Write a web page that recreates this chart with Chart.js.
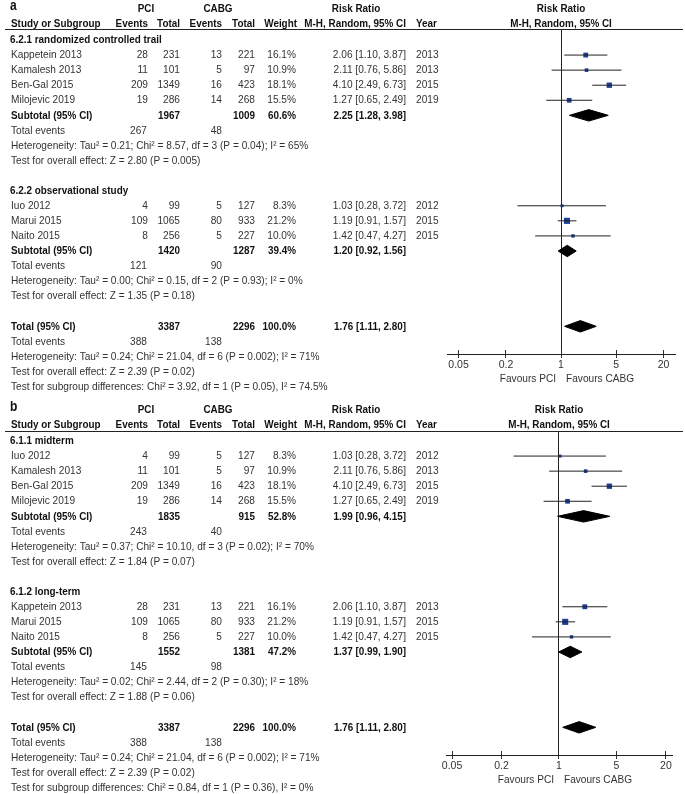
<!DOCTYPE html>
<html>
<head>
<meta charset="utf-8">
<script src="https://cdn.jsdelivr.net/npm/chart.js@4.4.1/dist/chart.umd.min.js"></script>
<style>
  body { margin: 0; background: #fff; }
  canvas { position: absolute; left: 0; }
  #panelA { top: 0; }
  #panelB { top: 401px; }
</style>
</head>
<body>
<canvas id="panelA" width="685" height="401"></canvas>
<canvas id="panelB" width="685" height="393"></canvas>
<script>
// Study level data (same studies appear in both panels)
const studies = ['Kappetein 2013', 'Kamalesh 2013', 'Ben-Gal 2015', 'Milojevic 2019', 'Iuo 2012', 'Marui 2015', 'Naito 2015'];
const pciEvents = [28, 11, 209, 19, 4, 109, 8];
const pciTotal = [231, 101, 1349, 286, 99, 1065, 256];
const cabgEvents = [13, 5, 16, 14, 5, 80, 5];
const cabgTotal = [221, 97, 423, 268, 127, 933, 227];
const weights = [16.1, 10.9, 18.1, 15.5, 8.3, 21.2, 10.0];
const rr = [2.06, 2.11, 4.10, 1.27, 1.03, 1.19, 1.42];
const rrLow = [1.10, 0.76, 2.49, 0.65, 0.28, 0.91, 0.47];
const rrHigh = [3.87, 5.86, 6.73, 2.49, 3.72, 1.57, 4.27];
const years = [2013, 2013, 2015, 2019, 2012, 2015, 2015];

// Panel a: by study design
const aTitles = ['6.2.1 randomized controlled trail', '6.2.2 observational study'];
const aMembers = [[0, 1, 2, 3], [4, 5, 6]];
const aSubPci = [1967, 1420];
const aSubCabg = [1009, 1287];
const aSubWeight = [60.6, 39.4];
const aSubRR = [2.25, 1.20];
const aSubLow = [1.28, 0.92];
const aSubHigh = [3.98, 1.56];
const aSubPciEvents = [267, 121];
const aSubCabgEvents = [48, 90];
const aHet = ['Heterogeneity: Tau² = 0.21; Chi² = 8.57, df = 3 (P = 0.04); I² = 65%',
              'Heterogeneity: Tau² = 0.00; Chi² = 0.15, df = 2 (P = 0.93); I² = 0%'];
const aOverall = ['Test for overall effect: Z = 2.80 (P = 0.005)', 'Test for overall effect: Z = 1.35 (P = 0.18)'];
const aSubgroupTest = 'Test for subgroup differences: Chi² = 3.92, df = 1 (P = 0.05), I² = 74.5%';

// Panel b: by follow-up
const bTitles = ['6.1.1 midterm', '6.1.2 long-term'];
const bMembers = [[4, 1, 2, 3], [0, 5, 6]];
const bSubPci = [1835, 1552];
const bSubCabg = [915, 1381];
const bSubWeight = [52.8, 47.2];
const bSubRR = [1.99, 1.37];
const bSubLow = [0.96, 0.99];
const bSubHigh = [4.15, 1.90];
const bSubPciEvents = [243, 145];
const bSubCabgEvents = [40, 98];
const bHet = ['Heterogeneity: Tau² = 0.37; Chi² = 10.10, df = 3 (P = 0.02); I² = 70%',
              'Heterogeneity: Tau² = 0.02; Chi² = 2.44, df = 2 (P = 0.30); I² = 18%'];
const bOverall = ['Test for overall effect: Z = 1.84 (P = 0.07)', 'Test for overall effect: Z = 1.88 (P = 0.06)'];
const bSubgroupTest = 'Test for subgroup differences: Chi² = 0.84, df = 1 (P = 0.36), I² = 0%';

// Overall pooled result
const totalPci = 3387, totalCabg = 2296;
const totalRR = 1.76, totalLow = 1.11, totalHigh = 2.80;
const totalPciEvents = 388, totalCabgEvents = 138;
const totalHet = 'Heterogeneity: Tau² = 0.24; Chi² = 21.04, df = 6 (P = 0.002); I² = 71%';
const totalOverall = 'Test for overall effect: Z = 2.39 (P = 0.02)';

const xTicks = [0.05, 0.2, 1, 5, 20];

const FONT = '"Liberation Sans", Arial, Helvetica, sans-serif';
const SX = 0.88;      // RevMan text is a bit narrow
const SX_BOLD = 0.86;
const ROW = 15.07;
const NAVY = '#1b3f96';

function text(ctx, s, x, y, align, bold, size, baseline) {
    ctx.save();
    ctx.translate(x, y);
    ctx.scale(bold ? SX_BOLD : SX, 1);
    ctx.font = (bold ? 'bold ' : '') + (size || 11.5) + 'px ' + FONT;
    ctx.textAlign = align || 'left';
    ctx.textBaseline = baseline || 'middle';
    ctx.fillStyle = bold ? '#111' : '#333';
    ctx.fillText(String(s), 0, 0);
    ctx.restore();
}

const ci = (m, l, h) => `${m.toFixed(2)} [${l.toFixed(2)}, ${h.toFixed(2)}]`;

// turn the arrays into ordered table rows
function buildRows(p) {
    const rows = [];
    let k = 0;
    p.titles.forEach((t, g) => {
        rows.push({ k: k++, kind: 'title', text: t });
        p.members[g].forEach(i => rows.push({ k: k++, kind: 'study', i }));
        rows.push({ k: k++, kind: 'sub', g });
        rows.push({ k: k++, kind: 'events', pci: p.subPciEv[g], cabg: p.subCabgEv[g] });
        rows.push({ k: k++, kind: 'note', text: p.het[g] });
        rows.push({ k: k++, kind: 'note', text: p.overall[g] });
        k++;
    });
    rows.push({ k: k++, kind: 'total' });
    rows.push({ k: k++, kind: 'events', pci: totalPciEvents, cabg: totalCabgEvents });
    rows.push({ k: k++, kind: 'note', text: totalHet });
    rows.push({ k: k++, kind: 'note', text: totalOverall });
    rows.push({ k: k++, kind: 'note', text: p.subgroupTest });
    return rows;
}

function diamond(lo, mid, hi, k) {
    const h = 0.38;
    return {
        type: 'line',
        data: [{ x: lo, y: k }, { x: mid, y: k - h }, { x: hi, y: k }, { x: mid, y: k + h }, { x: lo, y: k }],
        borderColor: '#000',
        backgroundColor: '#000',
        borderWidth: 1,
        pointRadius: 0,
        tension: 0,
        fill: 'shape'
    };
}

function forestPlugin(p, rows) {
    return {
        id: 'forest',
        beforeDatasetsDraw(chart) {
            const { ctx, chartArea: a, scales: { x } } = chart;
            ctx.save();
            ctx.strokeStyle = '#222';
            ctx.lineWidth = 1;
            ctx.beginPath();
            const top = Math.round(a.top) + 0.5;
            ctx.moveTo(5, top);
            ctx.lineTo(683, top);
            const x1 = Math.round(x.getPixelForValue(1) - 0.5) + 0.5;
            ctx.moveTo(x1, a.top);
            ctx.lineTo(x1, a.bottom);
            ctx.stroke();
            ctx.restore();
        },
        afterDraw(chart) {
            const { ctx, chartArea: a, scales: { x, y } } = chart;
            const y0 = y.getPixelForValue(0);

            // tick marks cross the axis line
            ctx.save();
            ctx.strokeStyle = '#333';
            ctx.lineWidth = 1;
            ctx.beginPath();
            x.ticks.forEach(t => {
                const px = Math.round(x.getPixelForValue(t.value) - 0.5) + 0.5;
                ctx.moveTo(px, a.bottom - 4);
                ctx.lineTo(px, a.bottom);
            });
            ctx.stroke();
            ctx.restore();

            const x1 = x.getPixelForValue(1);
            text(ctx, 'Favours PCI', x1 - 5, a.bottom + 25, 'right');
            text(ctx, 'Favours CABG', x1 + 5, a.bottom + 25, 'left');

            // headers
            text(ctx, p.label, 10, y0 - 30, 'left', true, 14, 'alphabetic');
            const h1 = y0 - 31.5, h2 = y0 - 16;
            text(ctx, 'PCI', 146, h1, 'center', true);
            text(ctx, 'CABG', 218, h1, 'center', true);
            text(ctx, 'Risk Ratio', 356, h1, 'center', true);
            text(ctx, 'Risk Ratio', x1, h1, 'center', true);
            text(ctx, 'Study or Subgroup', 11, h2, 'left', true);
            text(ctx, 'Events', 148, h2, 'right', true);
            text(ctx, 'Total', 180, h2, 'right', true);
            text(ctx, 'Events', 222, h2, 'right', true);
            text(ctx, 'Total', 255, h2, 'right', true);
            text(ctx, 'Weight', 297, h2, 'right', true);
            text(ctx, 'M-H, Random, 95% CI', 406, h2, 'right', true);
            text(ctx, 'Year', 416, h2, 'left', true);
            text(ctx, 'M-H, Random, 95% CI', x1, h2, 'center', true);

            rows.forEach(r => {
                const py = y.getPixelForValue(r.k);
                if (r.kind === 'title') {
                    text(ctx, r.text, 10, py, 'left', true);
                } else if (r.kind === 'study') {
                    const i = r.i;
                    text(ctx, studies[i], 11, py);
                    text(ctx, pciEvents[i], 148, py, 'right');
                    text(ctx, pciTotal[i], 180, py, 'right');
                    text(ctx, cabgEvents[i], 222, py, 'right');
                    text(ctx, cabgTotal[i], 255, py, 'right');
                    text(ctx, weights[i].toFixed(1) + '%', 296, py, 'right');
                    text(ctx, ci(rr[i], rrLow[i], rrHigh[i]), 406, py, 'right');
                    text(ctx, years[i], 416, py, 'left');
                } else if (r.kind === 'sub') {
                    const g = r.g;
                    text(ctx, 'Subtotal (95% CI)', 11, py, 'left', true);
                    text(ctx, p.subPci[g], 180, py, 'right', true);
                    text(ctx, p.subCabg[g], 255, py, 'right', true);
                    text(ctx, p.subWeight[g].toFixed(1) + '%', 296, py, 'right', true);
                    text(ctx, ci(p.subRR[g], p.subLow[g], p.subHigh[g]), 406, py, 'right', true);
                } else if (r.kind === 'total') {
                    text(ctx, 'Total (95% CI)', 11, py, 'left', true);
                    text(ctx, totalPci, 180, py, 'right', true);
                    text(ctx, totalCabg, 255, py, 'right', true);
                    text(ctx, '100.0%', 296, py, 'right', true);
                    text(ctx, ci(totalRR, totalLow, totalHigh), 406, py, 'right', true);
                } else if (r.kind === 'events') {
                    text(ctx, 'Total events', 11, py);
                    text(ctx, r.pci, 147, py, 'right');
                    text(ctx, r.cabg, 222, py, 'right');
                } else {
                    text(ctx, r.text, 11, py);
                }
            });
        }
    };
}

function makePanel(canvasId, p) {
    const rows = buildRows(p);
    const studyRows = rows.filter(r => r.kind === 'study');
    const datasets = [];

    // confidence intervals
    studyRows.forEach(r => {
        datasets.push({
            type: 'line',
            data: [{ x: rrLow[r.i], y: r.k }, { x: rrHigh[r.i], y: r.k }],
            borderColor: '#222',
            borderWidth: 1,
            pointRadius: 0,
            fill: false
        });
    });

    // study squares sized by weight
    datasets.push({
        type: 'scatter',
        data: studyRows.map(r => ({ x: rr[r.i], y: r.k })),
        pointStyle: 'rect',
        pointRadius: studyRows.map(r => (1 + weights[r.i] * 0.24) / Math.SQRT2),
        backgroundColor: NAVY,
        borderColor: NAVY,
        borderWidth: 0
    });

    // pooled diamonds
    rows.filter(r => r.kind === 'sub').forEach(r => {
        datasets.push(diamond(p.subLow[r.g], p.subRR[r.g], p.subHigh[r.g], r.k));
    });
    const tot = rows.find(r => r.kind === 'total');
    datasets.push(diamond(totalLow, totalRR, totalHigh, tot.k));

    const top = p.top;
    new Chart(document.getElementById(canvasId), {
        type: 'scatter',
        data: { datasets },
        options: {
            responsive: false,
            animation: false,
            events: [],
            layout: { padding: { left: p.left, right: p.right, top: top, bottom: p.bottom } },
            plugins: { legend: { display: false }, tooltip: { enabled: false } },
            scales: {
                x: {
                    type: 'logarithmic',
                    position: 'bottom',
                    min: p.xMin,
                    max: p.xMax,
                    afterBuildTicks: s => { s.ticks = xTicks.map(v => ({ value: v })); },
                    afterFit: s => { s.height = 22; },
                    ticks: {
                        autoSkip: false,
                        maxRotation: 0,
                        padding: 1,
                        color: '#333',
                        font: { family: FONT, size: 10.5 },
                        callback: v => String(v)
                    },
                    grid: { drawOnChartArea: false, drawTicks: true, tickLength: 4, color: '#333' },
                    border: { color: '#222', width: 1 }
                },
                y: {
                    type: 'linear',
                    display: false,
                    reverse: true,
                    min: -(40 - top) / ROW,
                    max: (354 - 40) / ROW
                }
            }
        },
        plugins: [forestPlugin(p, rows)]
    });
}

makePanel('panelA', {
    label: 'a', titles: aTitles, members: aMembers,
    subPci: aSubPci, subCabg: aSubCabg, subWeight: aSubWeight,
    subRR: aSubRR, subLow: aSubLow, subHigh: aSubHigh,
    subPciEv: aSubPciEvents, subCabgEv: aSubCabgEvents,
    het: aHet, overall: aOverall, subgroupTest: aSubgroupTest,
    xMin: 0.0357, xMax: 28.0, left: 447, right: 10, top: 29, bottom: 401 - 354 - 22
});

makePanel('panelB', {
    label: 'b', titles: bTitles, members: bMembers,
    subPci: bSubPci, subCabg: bSubCabg, subWeight: bSubWeight,
    subRR: bSubRR, subLow: bSubLow, subHigh: bSubHigh,
    subPciEv: bSubPciEvents, subCabgEv: bSubCabgEvents,
    het: bHet, overall: bOverall, subgroupTest: bSubgroupTest,
    xMin: 0.0422, xMax: 23.7, left: 446, right: 13, top: 30, bottom: 393 - 354 - 22
});
</script>
</body>
</html>
